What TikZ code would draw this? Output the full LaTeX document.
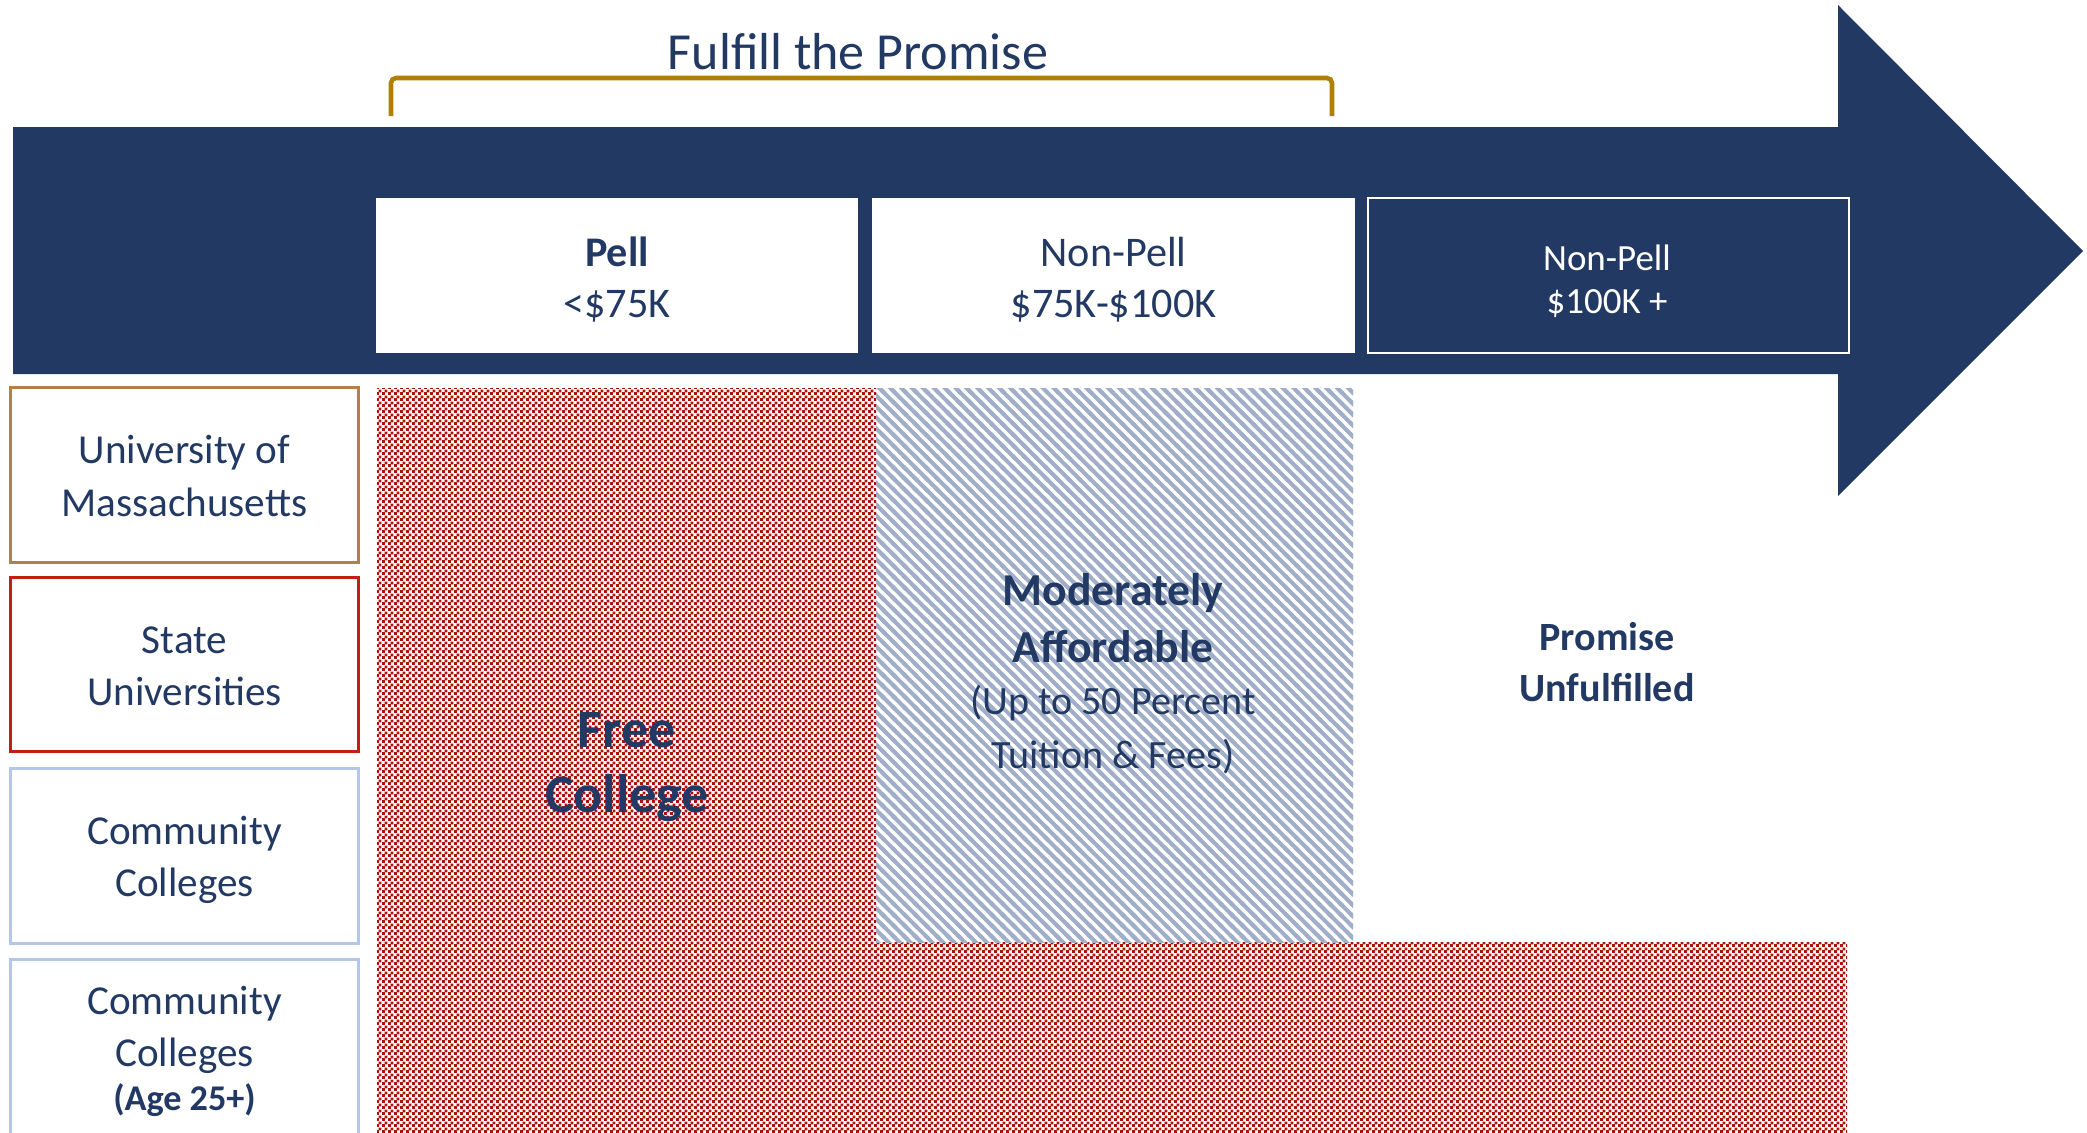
\documentclass[tikz,border=0pt]{standalone}
\usepackage{fontspec}
\setmainfont{Carlito}
\usetikzlibrary{patterns}
\definecolor{navy}{RGB}{34,57,99}
\definecolor{gold}{RGB}{176,128,0}
\definecolor{umass}{RGB}{178,128,72}
\definecolor{stateu}{RGB}{192,32,16}
\definecolor{ccblue}{RGB}{180,199,231}
\definecolor{checkred}{RGB}{170,18,10}
\definecolor{hatchblue}{RGB}{160,174,200}
\pgfdeclarepatternformonly{redcheck}{\pgfqpoint{0pt}{0pt}}{\pgfqpoint{1.6pt}{1.6pt}}{\pgfqpoint{1.6pt}{1.6pt}}{%
  \pgfpathrectangle{\pgfqpoint{0pt}{0pt}}{\pgfqpoint{0.9pt}{0.9pt}}%
  \pgfpathrectangle{\pgfqpoint{0.8pt}{0.8pt}}{\pgfqpoint{0.8pt}{0.8pt}}%
  \pgfusepath{fill}}
\pgfdeclarepatternformonly{bluehatch}{\pgfqpoint{-1pt}{-1pt}}{\pgfqpoint{4.1pt}{4.1pt}}{\pgfqpoint{3.1pt}{3.1pt}}{%
  \pgfsetlinewidth{1.15pt}%
  \pgfpathmoveto{\pgfqpoint{-0.5pt}{3.6pt}}%
  \pgfpathlineto{\pgfqpoint{3.6pt}{-0.5pt}}%
  \pgfusepath{stroke}}

\begin{document}
\begin{tikzpicture}[x=0.01cm,y=-0.01cm,
  incbox/.style={fill=white, minimum width=4.82cm, minimum height=1.55cm},
  inclbl/.style={text=navy, align=center, font=\fontsize{12}{14.5}\selectfont},
  instbox/.style={draw=#1, line width=0.85pt, fill=white, minimum width=3.47cm, minimum height=1.74cm},
  instlbl/.style={text=navy, align=center, font=\fontsize{11.7}{14.8}\selectfont}]
\useasboundingbox (0,0) rectangle (2087,1133);
\fill[pattern=redcheck, pattern color=checkred] (377,388) -- (876,388) -- (876,942) -- (1847,942) -- (1847,1133) -- (377,1133) -- cycle;
\fill[pattern=bluehatch, pattern color=hatchblue] (876,388) rectangle (1353,942);
\fill[navy] (13,127) -- (1838,127) -- (1838,5) -- (2083,251) -- (1838,496) -- (1838,374) -- (13,374) -- cycle;
\draw[gold, line width=1.3pt, rounded corners=0.05cm] (391,116) -- (391,78) -- (1332,78) -- (1332,116);
\node[text=navy, font=\fontsize{14.8}{18}\selectfont, inner sep=0] (promise) at (858,52) {Fulfill the Promise};
\node[incbox] (pell) at (617,275.5) {};
\node[inclbl] (pelllbl) at (617,280) {\textbf{Pell}\\<\$75K};
\node[incbox] (mid) at (1113.5,275.5) {};
\node[inclbl] (midlbl) at (1113.5,280) {Non-Pell\\\$75K-\$100K};
\node[incbox, fill=navy, draw=white, line width=0.7pt, minimum width=4.81cm] (high) at (1608.5,275.5) {};
\node[inclbl, text=white, font=\fontsize{10.5}{12.2}\selectfont] (highlbl) at (1607,281) {Non-Pell\\\$100K +};
\node[instbox=umass] (umassbox) at (184.5,475) {};
\node[instlbl] (umasslbl) at (184.5,476) {University of\\Massachusetts};
\node[instbox=stateu] (statebox) at (184.5,664.5) {};
\node[instlbl] (statelbl) at (184.5,666) {State\\Universities};
\node[instbox=ccblue] (ccbox) at (184.5,856) {};
\node[instlbl] (cclbl) at (184.5,860) {Community\\Colleges};
\node[instbox=ccblue] (ccagebox) at (184.5,1047) {};
\node[instlbl] (ccagelbl) at (184.5,1051) {Community\\Colleges\\[-2.3pt]\bfseries\fontsize{10.3}{12}\selectfont (Age 25+)};
\node[text=navy, font=\bfseries\fontsize{15.4}{18.4}\selectfont, align=center] (free) at (627,767) {Free\\College};
\node[text=navy, font=\fontsize{11.4}{14.8}\selectfont, align=center] (moderate) at (1113,674) {\bfseries\fontsize{13}{16}\selectfont Moderately\\[1.4pt]\bfseries\fontsize{13}{16}\selectfont Affordable\\(Up to 50 Percent\\[0.6pt]Tuition \& Fees)};
\node[text=navy, font=\bfseries\fontsize{11.4}{14.5}\selectfont, align=center] (unfulfilled) at (1607,662) {Promise\\Unfulfilled};
\end{tikzpicture}
\end{document}
